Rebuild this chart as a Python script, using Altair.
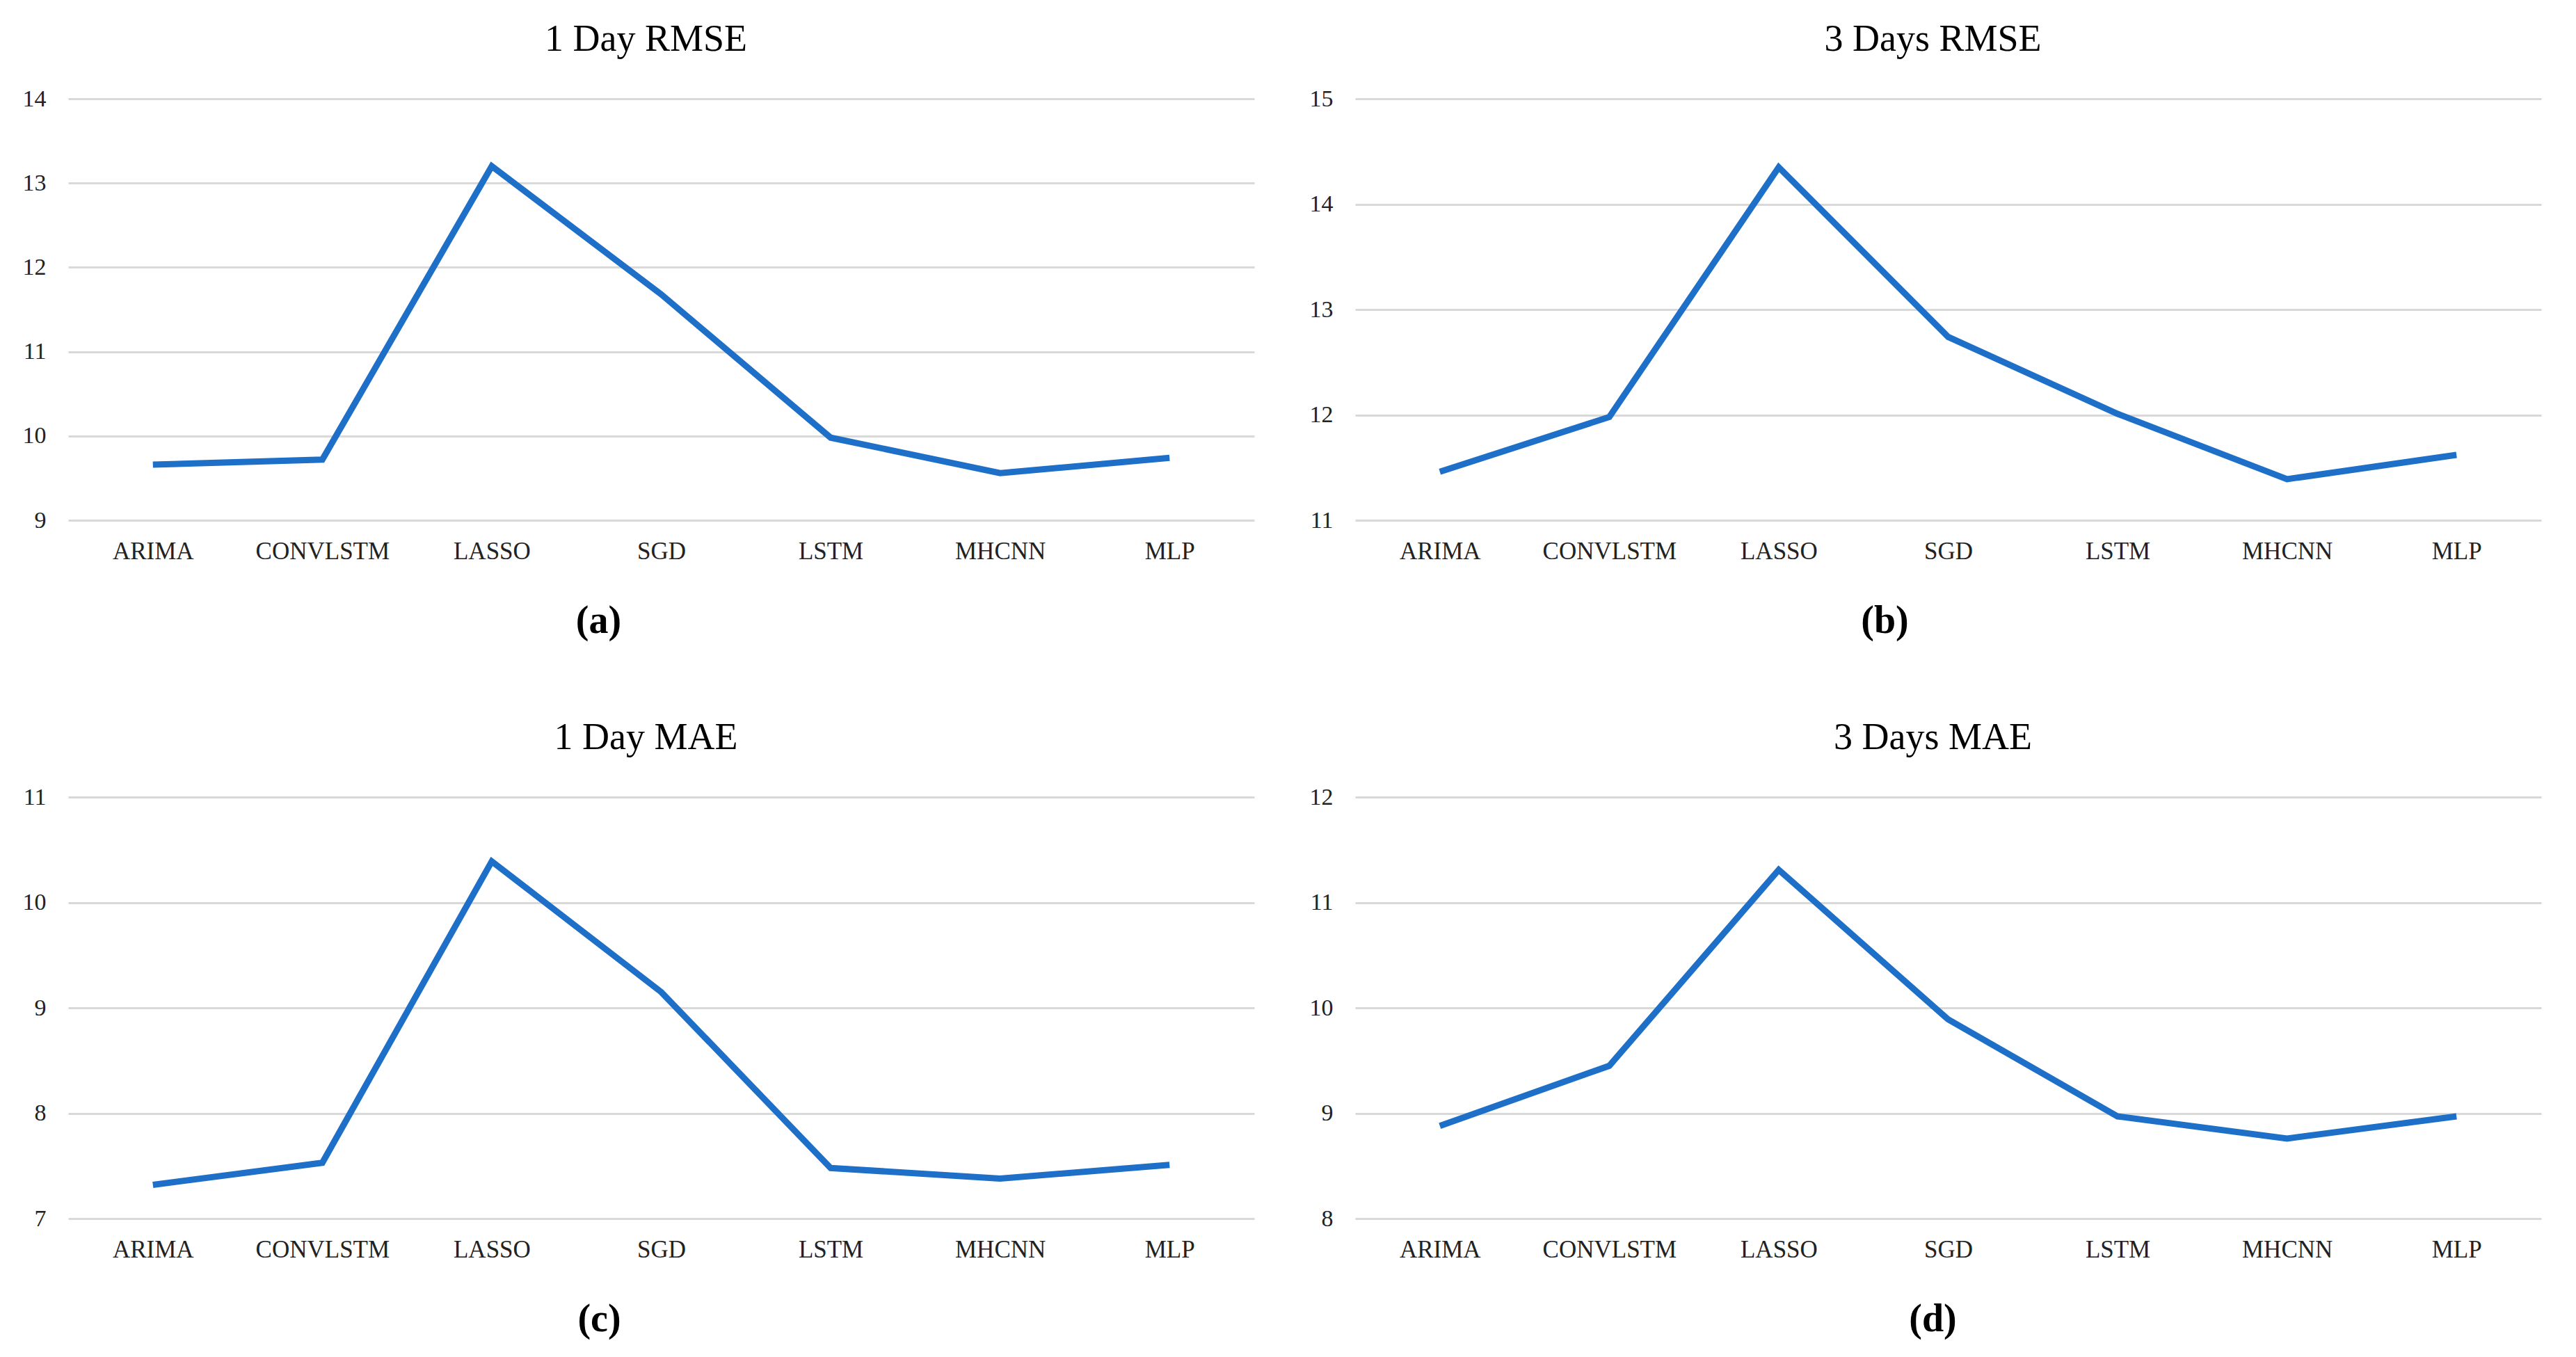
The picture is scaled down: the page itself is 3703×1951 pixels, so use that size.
import altair as alt
import pandas as pd

# ---- data ----
models = ["ARIMA", "CONVLSTM", "LASSO", "SGD", "LSTM", "MHCNN", "MLP"]
rmse_1day = [9.66, 9.72, 13.20, 11.68, 9.98, 9.56, 9.74]
rmse_3day = [11.46, 11.98, 14.35, 12.74, 12.01, 11.39, 11.62]
mae_1day = [7.32, 7.53, 10.39, 9.15, 7.48, 7.38, 7.51]
mae_3day = [8.88, 9.45, 11.31, 9.89, 8.97, 8.76, 8.97]

titles = ["1 Day RMSE", "3 Days RMSE", "1 Day MAE", "3 Days MAE"]
captions = ["(a)", "(b)", "(c)", "(d)"]
y_domains = [[9, 14], [11, 15], [7, 11], [8, 12]]
caption_x = [762, 761, 763, 830]

FONT = "Liberation Serif"
BLUE = "#1d6fc8"
W, H = 1705, 606


def panel(values, title, caption, domain, cap_x):
    df = pd.DataFrame({"model": models, "value": values})
    return (
        alt.Chart(
            df,
            title=alt.TitleParams(
                title, fontSize=54, font=FONT, fontWeight="normal",
                color="black", offset=41, dx=-22, anchor="middle",
            ),
        )
        .mark_line(color=BLUE, strokeWidth=9)
        .encode(
            x=alt.X(
                "model:N", sort=models,
                scale=alt.Scale(type="point", padding=0.5),
                axis=alt.Axis(
                    title=caption, titleFontWeight="bold", titleFontSize=56,
                    titleFont=FONT, titleColor="black", titleX=cap_x,
                    titlePadding=55, labelAngle=0, labelFontSize=35,
                    labelFont=FONT, labelColor="#222", labelPadding=27,
                    labelLimit=0, ticks=False, tickSize=0, domain=False,
                    grid=False,
                ),
            ),
            y=alt.Y(
                "value:Q",
                scale=alt.Scale(domain=domain, nice=False, zero=False),
                axis=alt.Axis(
                    title=None, values=list(range(domain[0], domain[1] + 1)),
                    grid=True, gridColor="#d9d9d9", gridWidth=3,
                    domain=False, ticks=False, tickSize=0,
                    labelFontSize=34, labelFont=FONT, labelColor="#222",
                    labelPadding=32, minExtent=90, maxExtent=90,
                ),
            ),
        )
        .properties(width=W, height=H)
    )


series = [rmse_1day, rmse_3day, mae_1day, mae_3day]
panels = [panel(series[i], titles[i], captions[i], y_domains[i], caption_x[i]) for i in range(4)]

chart = (
    alt.vconcat(
        alt.hconcat(panels[0], panels[1], spacing=55),
        alt.hconcat(panels[2], panels[3], spacing=55),
        spacing=114,
    )
    .properties(padding={"left": 0, "top": 22, "right": 5, "bottom": 5}, background="white")
    .configure_view(stroke=None)
)

chart.save("out.html", embed_options={"renderer": "svg", "actions": False})
